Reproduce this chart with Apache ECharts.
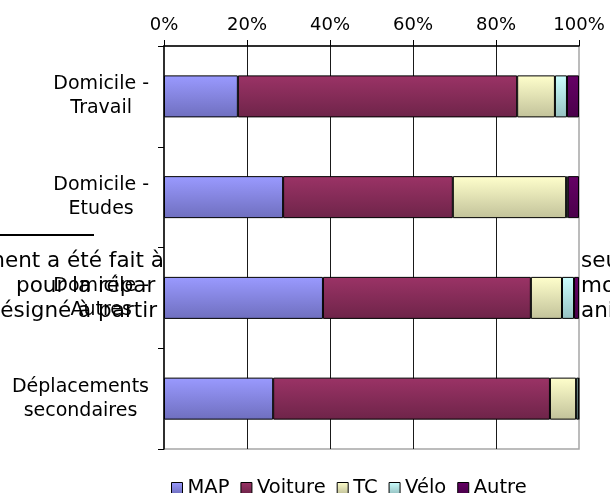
<!DOCTYPE html>
<html>
<head>
<meta charset="utf-8">
<script src="https://cdn.jsdelivr.net/npm/echarts@6/dist/echarts.min.js"></script>
<style>
  html, body { margin: 0; padding: 0; background: #fff; }
  #chart { width: 610px; height: 493px; }
</style>
</head>
<body>
<div id="chart"></div>
<script>
// trajets (haut en bas)
const categories = ['Domicile -\nTravail', 'Domicile -\nEtudes', 'Domicile -\nAutres', 'Déplacements\nsecondaires']
const modes = ['MAP', 'Voiture', 'TC', 'Vélo', 'Autre']
// parts en %
const mapValues = [17.8, 28.7, 38.3, 26.3]
const voitureValues = [67.3, 40.9, 50.1, 66.7]
const tcValues = [9.1, 27.3, 7.5, 6.3]
const veloValues = [2.9, 0.4, 2.9, 0.6]
const autreValues = [2.9, 2.7, 1.2, 0.1]
const tickLabels = ['0%', '20%', '40%', '60%', '80%', '100%']

// texte du document derrière le graphique
const docLeft = ['ment a été fait à', 'pour la répar', 'ésigné à partir']
const docRight = ['seu', 'mo', 'ani']

const font = 'DejaVu Sans'
const docFont = '21.5px ' + font

function grad (top, bottom) {
  return new echarts.graphic.LinearGradient(0, 0, 0, 1, [
    { offset: 0, color: top },
    { offset: 1, color: bottom }
  ])
}

const colors = [
  grad('#9a9aff', '#6f6fbf'),
  grad('#9b3366', '#6e2449'),
  grad('#ffffcc', '#c2c29a'),
  grad('#ccffff', '#96c2c2'),
  grad('#660066', '#4a004a')
]
const seriesValues = [mapValues, voitureValues, tcValues, veloValues, autreValues]

const myChart = echarts.init(document.getElementById('chart'))

const options = {
  animation: false,
  textStyle: { fontFamily: font },
  grid: {
    left: 164,
    right: 31,
    top: 46,
    bottom: 44,
    show: true,
    backgroundColor: '#fff',
    borderColor: '#a6a6a6',
    borderWidth: 1.5
  },
  graphic: [
    { type: 'line', z: -1, shape: { x1: 0, y1: 235, x2: 94, y2: 235 }, style: { stroke: '#000', lineWidth: 2 } },
    { type: 'text', z: -1, x: 164, y: 261, style: { text: docLeft[0], align: 'right', verticalAlign: 'middle', font: docFont, fill: '#000' } },
    { type: 'text', z: -1, x: 16, y: 286, style: { text: docLeft[1], align: 'left', verticalAlign: 'middle', font: docFont, fill: '#000' } },
    { type: 'text', z: -1, x: 157, y: 311, style: { text: docLeft[2], align: 'right', verticalAlign: 'middle', font: docFont, fill: '#000' } },
    { type: 'text', z: -1, x: 581, y: 261, style: { text: docRight[0], align: 'left', verticalAlign: 'middle', font: docFont, fill: '#000' } },
    { type: 'text', z: -1, x: 581, y: 286, style: { text: docRight[1], align: 'left', verticalAlign: 'middle', font: docFont, fill: '#000' } },
    { type: 'text', z: -1, x: 581, y: 311, style: { text: docRight[2], align: 'left', verticalAlign: 'middle', font: docFont, fill: '#000' } }
  ],
  legend: {
    data: modes,
    left: 166,
    top: 473,
    itemWidth: 11,
    itemHeight: 11,
    itemGap: 11,
    icon: 'rect',
    itemStyle: { borderColor: '#000', borderWidth: 1 },
    textStyle: { fontSize: 19.5, color: '#000', fontFamily: font, padding: [0, 0, 0, 0] }
  },
  xAxis: {
    type: 'value',
    position: 'top',
    min: 0,
    max: 100,
    interval: 20,
    axisLine: { show: true, lineStyle: { color: '#000', width: 1.5 } },
    axisTick: { show: true, length: 6, lineStyle: { color: '#000' } },
    axisLabel: {
      color: '#000',
      fontSize: 18,
      margin: 12,
      formatter: (v) => tickLabels[v / 20]
    },
    splitLine: { show: true, showMinLine: false, showMaxLine: false, lineStyle: { color: '#1a1a1a', width: 1 } }
  },
  yAxis: {
    type: 'category',
    inverse: true,
    data: categories,
    axisLine: { show: true, lineStyle: { color: '#000', width: 1.5 } },
    axisTick: { show: true, length: 6, lineStyle: { color: '#000' } },
    axisLabel: {
      color: '#000',
      margin: 15,
      align: 'right',
      formatter: (v) => v.split('\n').map(s => '{c|' + s + '}').join('\n'),
      rich: {
        c: { align: 'center', fontSize: 19, lineHeight: 24, color: '#000', fontFamily: font }
      }
    }
  },
  series: modes.map((name, i) => ({
    name: name,
    type: 'bar',
    stack: 'total',
    barWidth: 42,
    data: seriesValues[i],
    itemStyle: {
      color: colors[i],
      borderColor: '#000',
      borderWidth: 1
    }
  }))
}

myChart.setOption(options)
</script>
</body>
</html>
